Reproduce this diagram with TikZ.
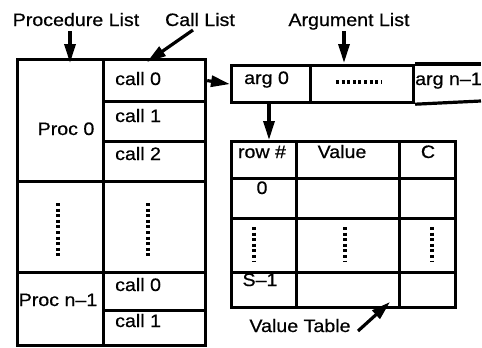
\documentclass[tikz,border=0pt]{standalone}
\usepackage{fontspec}
\setmainfont[FakeStretch=1.09,FakeBold=0.6]{Liberation Sans}
\usetikzlibrary{arrows.meta}
\newcommand\cellbox[5]{\node[cell, minimum width=#4pt, minimum height=#5pt] (#1) at (#2,#3) {};}
\begin{document}
\begin{tikzpicture}[x=1pt,y=-1pt,
  cell/.style={draw, line width=3.2pt, inner sep=0pt, anchor=north west},
  txt/.style={inner sep=0pt, font=\fontsize{18}{18}\selectfont, anchor=base},
  ltxt/.style={txt, anchor=base west},
  arr/.style={line width=3.2pt, -{Triangle[length=19pt,width=11pt]}},
  dotline/.style={line width=3.4pt, dash pattern=on 3pt off 2.6pt},
  edge/.style={line width=3.2pt}]
\useasboundingbox (0,0) rectangle (482,348);
% procedure / call list
\cellbox{proc0}{16}{58}{86}{122}
\cellbox{c00}{102}{58}{102}{42}
\cellbox{c01}{102}{100}{102}{40}
\cellbox{c02}{102}{140}{102}{40}
\cellbox{dl}{16}{180}{86}{91}
\cellbox{dr}{102}{180}{102}{91}
\cellbox{procn}{16}{271}{86}{73}
\cellbox{cn0}{102}{271}{102}{38}
\cellbox{cn1}{102}{309}{102}{35}
% argument list
\cellbox{a0}{230}{64}{79}{37}
\cellbox{ad}{309}{64}{103}{37}
\coordinate (aendt) at (481,64);
\coordinate (aendb) at (481,101);
\draw[edge] (ad.north east) -- (aendt);
\draw[edge] (ad.south east) -- (aendb);
% value table
\cellbox{vh1}{230}{140}{65}{37}
\cellbox{vh2}{295}{140}{103}{37}
\cellbox{vh3}{398}{140}{56}{37}
\cellbox{v01}{230}{177}{65}{40}
\cellbox{v02}{295}{177}{103}{40}
\cellbox{v03}{398}{177}{56}{40}
\cellbox{vd1}{230}{217}{65}{54}
\cellbox{vd2}{295}{217}{103}{54}
\cellbox{vd3}{398}{217}{56}{54}
\cellbox{vs1}{230}{271}{65}{35}
\cellbox{vs2}{295}{271}{103}{35}
\cellbox{vs3}{398}{271}{56}{35}
% texts
\node[txt] (plab) at (76,26) {Procedure List};
\node[txt] (clab) at (200,26) {Call List};
\node[txt] (alab) at (349,26) {Argument List};
\node[ltxt] (t1) at (115,85) {call 0};
\node[ltxt] (t2) at (115,122) {call 1};
\node[ltxt] (t3) at (115,160) {call 2};
\node[txt] (t4) at (66,135) {Proc 0};
\node[txt] (t5) at (58,306) {Proc n–1};
\node[ltxt] (t6) at (115,291) {call 0};
\node[ltxt] (t7) at (115,327) {call 1};
\node[ltxt] (t8) at (244,84) {arg 0};
\node[ltxt] (t9) at (415,85) {arg n–1};
\node[txt] (t10) at (262,158) {row \#};
\node[txt] (t11) at (342,158) {Value};
\node[txt] (t12) at (428,158) {C};
\node[txt] (t13) at (262,194) {0};
\node[txt] (t14) at (260,286) {S–1};
\node[txt] (vlab) at (300,332) {Value Table};
% dotted lines
\draw[dotline] (58,203) -- (58,258);
\draw[dotline] (148,203) -- (148,258);
\draw[dotline] (336,82) -- (381,82);
\draw[dotline] (254,227) -- (254,262);
\draw[dotline] (345,227) -- (345,262);
\draw[dotline] (432,227) -- (432,262);
% arrows
\coordinate (pA) at (70,31);  \coordinate (pB) at (70,63);
\coordinate (cA) at (193,30); \coordinate (cB) at (147,62);
\coordinate (aA) at (344,31); \coordinate (aB) at (344,63);
\coordinate (vA) at (358,331); \coordinate (vB) at (390,302);
\coordinate (dA) at (269,101); \coordinate (dB) at (269,140);
\draw[arr] (pA) -- (pB);
\draw[arr] (cA) -- (cB);
\draw[arr] (aA) -- (aB);
\draw[arr] (vA) -- (vB);
\draw[arr] (dA) -- (dB);
\draw[arr] (c00.east) -- (a0.west);
\end{tikzpicture}
\end{document}
